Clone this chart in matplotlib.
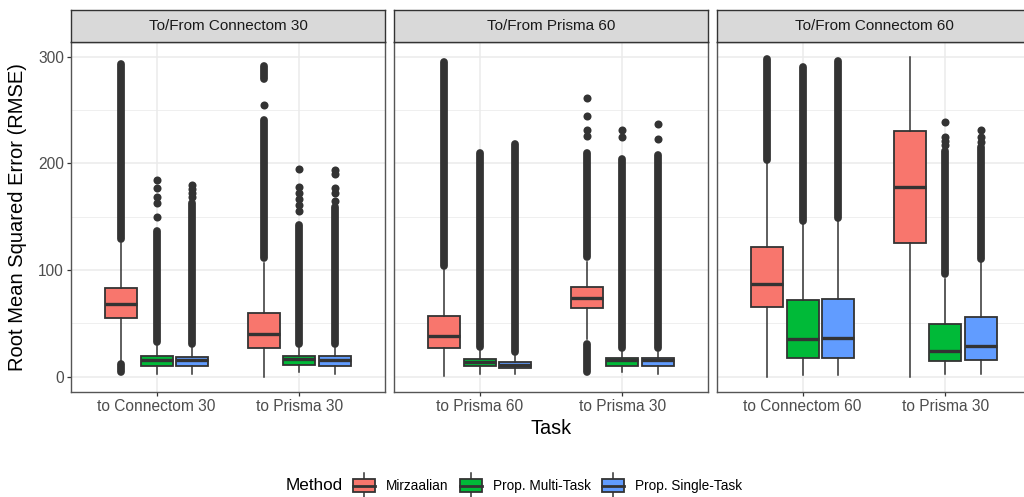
import matplotlib
matplotlib.use("Agg")
import matplotlib.pyplot as plt
from matplotlib.patches import Rectangle
from matplotlib.lines import Line2D
from matplotlib.legend_handler import HandlerBase

plt.rcParams['font.family'] = ['Liberation Sans', 'DejaVu Sans']

# ---- data ----
panels = ["To/From Connectom 30", "To/From Prisma 60", "To/From Connectom 60"]
tasks = [["to Connectom 30", "to Prisma 30"],
         ["to Prisma 60", "to Prisma 30"],
         ["to Connectom 60", "to Prisma 30"]]
methods = ["Mirzaalian", "Prop. Multi-Task", "Prop. Single-Task"]
colors = ["#F8766D", "#00BA38", "#619CFF"]

# [panel][task][method]
q1 = [[[55, 10, 10], [27, 11, 10.5]],
      [[26.6, 10, 8], [64, 10.3, 10.3]],
      [[65, 17.6, 18], [125.5, 15, 16]]]
med = [[[68, 16, 15.5], [40, 16.5, 16]],
       [[38, 13.5, 11], [74, 15.4, 15.4]],
       [[87, 35, 36.5], [178, 24.5, 28.5]]]
q3 = [[[83, 19.5, 18.5], [60, 19.5, 19.5]],
      [[57, 16.6, 14], [84, 17.2, 17.2]],
      [[122, 71.5, 73], [230, 49.5, 56.4]]]
whislo = [[[15, 3, 3], [0, 4, 3]],
          [[0.5, 2.5, 3], [35, 4, 3]],
          [[0, 2, 2], [0, 3, 3]]]
whishi = [[[125, 29, 27], [107, 27, 27]],
          [[100, 24, 19], [108, 23, 23]],
          [[200, 144, 147], [300, 92, 108]]]

# runs of outliers so dense they merge into a column: (low, high)
dense = [[[[(4, 12), (129, 293)], [(33, 137)], [(31, 163)]],
          [[(111, 241), (279, 291)], [(31, 142)], [(31, 159)]]],
         [[[(104, 295)], [(28, 210)], [(23, 218)]],
          [[(4, 31), (112, 210)], [(27, 204)], [(27, 208)]]],
         [[[(203, 298)], [(146, 290)], [(149, 296)]],
          [[], [(96, 212)], [(110, 215)]]]]
# separate outlier points
points = [[[[], [150, 163, 168, 177, 184], [168, 172, 176, 180]],
           [[255], [155, 161, 167, 172, 178, 195], [165, 172, 177, 190, 194]]],
          [[[], [], []],
           [[226, 231, 244, 261], [224.5, 231], [223, 237]]],
          [[[], [], []],
           [[], [217, 221, 225, 239], [220, 225, 231]]]]

offsets = [-0.25, 0, 0.25]
box_w = 0.225
dark = "#333333"

W, H = 1024, 497
fig = plt.figure(figsize=(W / 100, H / 100), dpi=100)


def px(x0, y0, x1, y1):
    return [x0 / W, 1 - y1 / H, (x1 - x0) / W, (y1 - y0) / H]


pan_left = [71, 394, 717]
pan_w = 314
top, bot, strip_top = 41.5, 392, 10

for p, title in enumerate(panels):
    ax = fig.add_axes(px(pan_left[p], top, pan_left[p] + pan_w, bot))
    ax.set_xlim(0.4, 2.6)
    ax.set_ylim(-14.3, 314.2)
    ax.set_yticks([0, 100, 200, 300])
    ax.set_yticks([50, 150, 250], minor=True)
    ax.set_xticks([1, 2])
    ax.set_xticklabels(tasks[p])
    ax.grid(which='major', color='#EBEBEB', lw=1.1)
    ax.grid(which='minor', axis='y', color='#EBEBEB', lw=0.55)
    ax.set_axisbelow(True)
    ax.tick_params(which='minor', length=0)
    ax.tick_params(which='major', length=3, width=0.9, color=dark,
                   labelsize=11.2, labelcolor='#4D4D4D', pad=2)
    if p > 0:
        ax.tick_params(axis='y', length=0, labelleft=False)
    for s in ax.spines.values():
        s.set_color('#555555')
        s.set_linewidth(1.0)

    stats, pos, cols = [], [], []
    for t in range(len(tasks[p])):
        for m in range(len(methods)):
            stats.append(dict(q1=q1[p][t][m], med=med[p][t][m], q3=q3[p][t][m],
                              whislo=whislo[p][t][m], whishi=whishi[p][t][m]))
            pos.append(t + 1 + offsets[m])
            cols.append(colors[m])
            x = t + 1 + offsets[m]
            # outliers
            for lo, hi in dense[p][t][m]:
                lc = ax.vlines(x, lo, hi, color=dark, lw=5.6, zorder=3)
                lc.set_capstyle('round')
            if points[p][t][m]:
                ax.plot([x] * len(points[p][t][m]), points[p][t][m], 'o',
                        color=dark, ms=5.8, mew=0, zorder=3)

    bp = ax.bxp(stats, positions=pos, widths=box_w, showfliers=False,
                showcaps=False, patch_artist=True,
                boxprops=dict(edgecolor=dark, lw=1.3),
                whiskerprops=dict(color=dark, lw=1.1),
                medianprops=dict(color=dark, lw=2.4, solid_capstyle='butt'),
                manage_ticks=False, zorder=2)
    for patch, c in zip(bp['boxes'], cols):
        patch.set_facecolor(c)

    # facet strip
    sax = fig.add_axes(px(pan_left[p], strip_top, pan_left[p] + pan_w, top))
    sax.set_facecolor('#D9D9D9')
    sax.set_xticks([])
    sax.set_yticks([])
    for s in sax.spines.values():
        s.set_color(dark)
        s.set_linewidth(1.0)
    sax.text(0.5, 0.5, title, ha='center', va='center', fontsize=11,
             color='#1A1A1A', transform=sax.transAxes)

fig.text(18 / W, 1 - (top + bot) / 2 / H, "Root Mean Squared Error (RMSE)",
         rotation=90, ha='center', va='center', fontsize=14.5)
fig.text(551 / W, 1 - 428 / H, "Task", ha='center', va='center', fontsize=14.3)


# legend with box-shaped keys
class BoxKey(HandlerBase):
    def create_artists(self, legend, orig, xd, yd, w, h, fontsize, trans):
        x0, y0 = -xd, -yd
        whisk = Line2D([x0 + w / 2] * 2, [y0 - 4, y0 + h + 4], color=dark,
                       lw=1.1, transform=trans)
        rect = Rectangle((x0, y0), w, h, facecolor=orig.get_facecolor(),
                         edgecolor=dark, lw=1.3, transform=trans)
        mline = Line2D([x0, x0 + w], [y0 + h / 2] * 2, color=dark, lw=2.0,
                       transform=trans)
        return [whisk, rect, mline]


handles = [Rectangle((0, 0), 1, 1, facecolor=c) for c in colors]
fig.legend(handles, methods, handler_map={Rectangle: BoxKey()},
           loc='center left', bbox_to_anchor=(353 / W, 1 - 486 / H),
           ncol=3, frameon=False, fontsize=9.8, handlelength=1.6,
           handleheight=1.15, handletextpad=0.85, columnspacing=0.8,
           borderpad=0, borderaxespad=0)
fig.text(286 / W, 1 - 486 / H, "Method", ha='left', va='center', fontsize=12.3)

fig.savefig("out.png", dpi=100)
